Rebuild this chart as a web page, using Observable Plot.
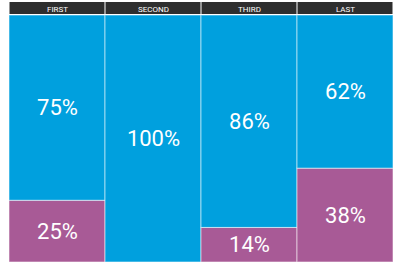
<!DOCTYPE html>
<html>
<head>
<meta charset="utf-8">
<script src="https://cdn.jsdelivr.net/npm/d3@7"></script>
<script src="https://cdn.jsdelivr.net/npm/@observablehq/plot@0.6"></script>
<style>
  html, body { margin: 0; padding: 0; background: #ffffff; }
  #chart svg { display: block; }
</style>
</head>
<body>
<div id="chart"></div>
<script>
const categories = ["FIRST", "SECOND", "THIRD", "LAST"];
const seriesNames = ["bottom", "top"];
const bottomValues = [25, 0, 14, 38];
const topValues = [75, 100, 86, 62];
const seriesColors = ["#A85A96", "#00A0DE"];

const rows = [];
categories.forEach((c, i) => {
  rows.push({category: c, series: seriesNames[0], value: bottomValues[i]});
  rows.push({category: c, series: seriesNames[1], value: topValues[i]});
});

const W = 397;
const xOpts = {domain: categories, padding: 0, axis: null};
const margins = {marginLeft: 8, marginRight: 3};

const header = Plot.plot({
  width: W, height: 15, ...margins, marginTop: 2, marginBottom: 1,
  x: xOpts, y: {axis: null},
  style: {fontFamily: "Roboto, sans-serif", background: "transparent"},
  marks: [
    Plot.cell(categories, {x: d => d, fill: "#2e2e2e", insetLeft: 0.5, insetRight: 0.5}),
    Plot.text(categories, {x: d => d, text: d => d, fill: "white", fontSize: 8, dy: 0.5})
  ]
});

const bars = Plot.plot({
  width: W, height: 249, ...margins, marginTop: 0, marginBottom: 2,
  x: xOpts,
  y: {domain: [0, 100], axis: null},
  color: {domain: seriesNames, range: seriesColors},
  style: {fontFamily: "Roboto, sans-serif", background: "transparent"},
  marks: [
    Plot.barY(rows, Plot.stackY({x: "category", y: "value", fill: "series", order: seriesNames,
      stroke: "white", strokeOpacity: 0.55, strokeWidth: 1})),
    Plot.text(rows, Plot.stackY({x: "category", y: "value", z: "series", order: seriesNames,
      filter: d => d.value > 0, text: d => d.value + "%", fill: "white", fontSize: 22}))
  ]
});

const el = document.getElementById("chart");
el.appendChild(header);
el.appendChild(bars);
</script>
</body>
</html>
